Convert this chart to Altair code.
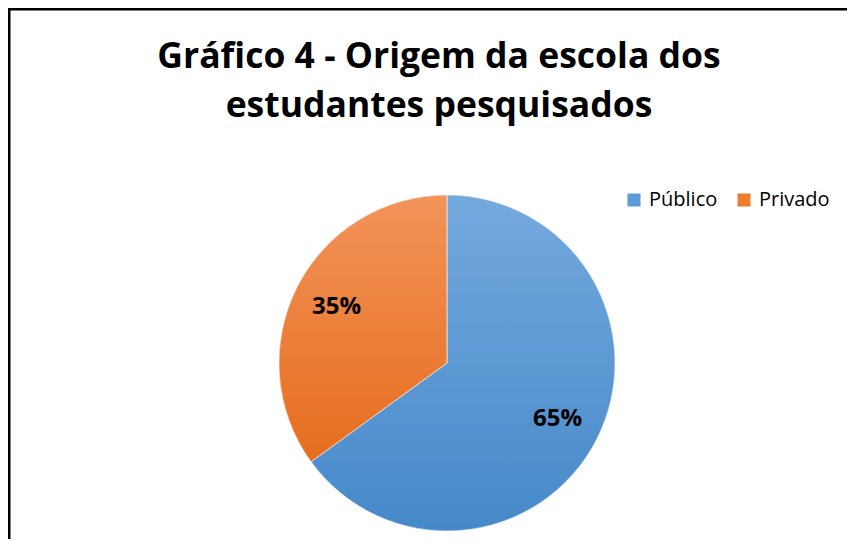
import altair as alt
import pandas as pd

categorias = ["Público", "Privado"]
valores = [65, 35]
rotulos = ["65%", "35%"]
ordem = [0, 1]
cores = ["#5B9BD5", "#ED7D31"]
gradientes = {
    "Público": ["#74A9DD", "#4689C9"],
    "Privado": ["#F29459", "#E66D1E"],
}
titulo = ["Gráfico 4 - Origem da escola dos", "estudantes pesquisados"]

df = pd.DataFrame({"categoria": categorias, "valor": valores, "rotulo": rotulos, "ordem": ordem})

FONT = "Open Sans"
R = 168

base = (
    alt.Chart(df)
    .transform_window(v1="sum(valor)", sort=[alt.SortField("ordem")], frame=[None, 0])
    .transform_calculate(v0="datum.v1 - datum.valor", vmid="datum.v1 - datum.valor / 2")
)
theta_scale = alt.Scale(domain=[0, 100])

legend_layer = base.mark_arc(outerRadius=R).encode(
    theta=alt.Theta("v0:Q", scale=theta_scale),
    theta2="v1:Q",
    color=alt.Color(
        "categoria:N",
        scale=alt.Scale(domain=categorias, range=cores),
        legend=alt.Legend(
            title=None,
            orient="none",
            direction="horizontal",
            legendX=577,
            legendY=-3,
            symbolType="square",
            symbolSize=169,
            symbolStrokeWidth=0,
            symbolOpacity=1,
            labelFont=FONT,
            labelFontSize=20,
            labelColor="black",
            labelOffset=5,
            columnPadding=16,
            padding=0,
        ),
    ),
    tooltip=["categoria:N", "valor:Q"],
)

grad_layers = []
for cat in categorias:
    c0, c1 = gradientes[cat]
    g = alt.Gradient(
        gradient="linear",
        stops=[alt.GradientStop(color=c0, offset=0), alt.GradientStop(color=c1, offset=1)],
        x1=0, x2=0, y1=0, y2=1,
    )
    grad_layers.append(
        base.transform_filter(alt.datum.categoria == cat)
        .mark_arc(outerRadius=R, fill=g, stroke="white", strokeWidth=0.6)
        .encode(theta=alt.Theta("v0:Q", scale=theta_scale), theta2="v1:Q")
    )

text_layer = base.mark_text(
    radius=124, font=FONT, fontSize=24, fontWeight="bold", color="black"
).encode(theta=alt.Theta("vmid:Q", scale=theta_scale), text="rotulo:N")

frame_df = pd.DataFrame({"a": [0]})
left_line = alt.Chart(frame_df).mark_rule(color="black", strokeWidth=2.5).encode(
    x=alt.value(-37.75), y=alt.value(-185), y2=alt.value(346)
)
top_line = alt.Chart(frame_df).mark_rule(color="black", strokeWidth=2.5).encode(
    x=alt.value(-39), x2=alt.value(800), y=alt.value(-183.75)
)

chart = (
    alt.layer(legend_layer, *grad_layers, text_layer, left_line, top_line)
    .properties(
        width=800,
        height=340,
        autosize=alt.AutoSizeParams(type="none"),
        padding={"left": 39, "top": 185, "right": 0, "bottom": 6},
        title=alt.Title(
            text=titulo,
            font=FONT,
            fontSize=35.5,
            fontWeight="bold",
            color="black",
            anchor="middle",
            offset=0,
            dy=118,
            lineHeight=49,
            dx=-8,
        ),
    )
    .configure_view(stroke=None)
)

chart.save("out.html", embed_options={"renderer": "svg", "actions": False})
